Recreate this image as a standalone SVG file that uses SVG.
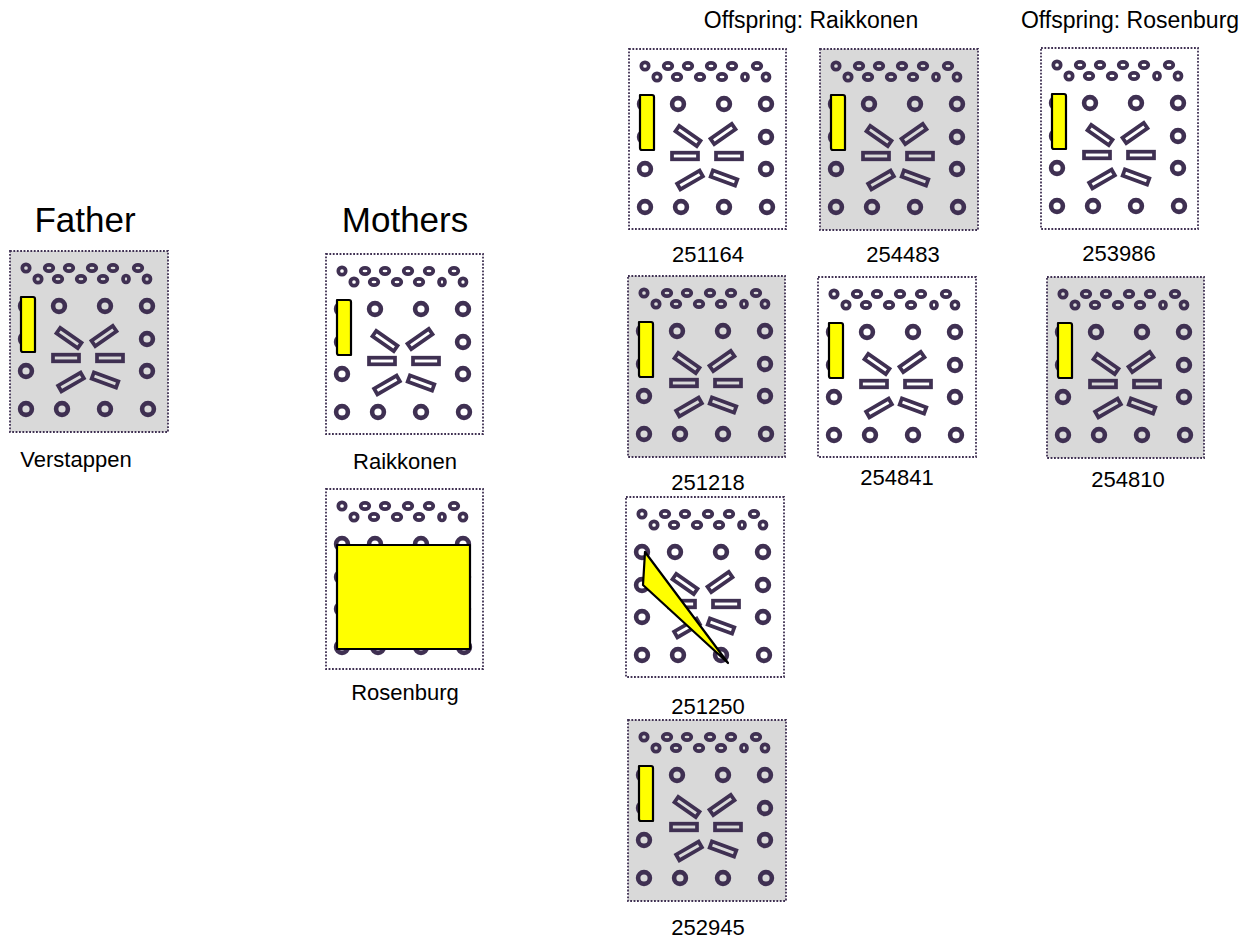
<svg xmlns="http://www.w3.org/2000/svg" xmlns:xlink="http://www.w3.org/1999/xlink" width="1245" height="939" viewBox="0 0 1245 939">
<style>
  text{font-family:"Liberation Sans",Arial,sans-serif;fill:#000}
  .title{font-size:35px}
  .lbl{font-size:22px}
  .head{font-size:23px}
  .pad{fill:none;stroke:#3f3052;stroke-width:4.6}
  .sp{fill:none;stroke:#3f3052;stroke-width:3.7}
  .bg-gray{fill:#d9d9d9}
  .bg-white{fill:#fff}
  .border{fill:none;stroke:#3f3052;stroke-width:1.8;stroke-dasharray:1.8 1.6}
  .yel{fill:#ffff00;stroke:#000;stroke-width:2.2;stroke-linejoin:round}
</style>
<defs>
  <g id="pads">
    <g class="sp">
      <ellipse cx="16" cy="17" rx="3.7" ry="3.7"/>
      <ellipse cx="39" cy="17" rx="4.3" ry="3.2"/>
      <ellipse cx="59" cy="17" rx="4.3" ry="3.2"/>
      <ellipse cx="82" cy="17" rx="4.3" ry="3.2"/>
      <ellipse cx="103" cy="17" rx="4.3" ry="3.2"/>
      <ellipse cx="128" cy="17" rx="4.3" ry="3.2"/>
      <ellipse cx="28" cy="28" rx="3.7" ry="3.7"/>
      <ellipse cx="48" cy="28" rx="4.3" ry="3.2"/>
      <ellipse cx="71" cy="28" rx="4.3" ry="3.2"/>
      <ellipse cx="93" cy="28" rx="4.3" ry="3.2"/>
      <ellipse cx="116" cy="28" rx="3" ry="3.5"/>
      <ellipse cx="137" cy="28" rx="3.5" ry="3.7"/>
    </g>
    <g class="pad">
      <circle cx="16" cy="55" r="5.9"/>
      <circle cx="49" cy="55" r="5.9"/>
      <circle cx="95" cy="55" r="5.9"/>
      <circle cx="137" cy="55" r="5.9"/>
      <circle cx="16" cy="88" r="5.9"/>
      <circle cx="137" cy="88" r="5.9"/>
      <circle cx="16" cy="120" r="5.9"/>
      <circle cx="137" cy="120" r="5.9"/>
      <circle cx="16" cy="158" r="5.9"/>
      <circle cx="52" cy="158" r="5.9"/>
      <circle cx="95" cy="158" r="5.9"/>
      <circle cx="138" cy="158" r="5.9"/>
    </g>
    <g class="sp">
      <rect x="-13" y="-3.3" width="26" height="6.6" transform="translate(59 87) rotate(35)"/>
      <rect x="-13" y="-3.3" width="26" height="6.6" transform="translate(94 85) rotate(-35)"/>
      <rect x="-13" y="-3.3" width="26" height="6.6" transform="translate(56 107)"/>
      <rect x="-13" y="-3.3" width="26" height="6.6" transform="translate(100 107)"/>
      <rect x="-13" y="-3.3" width="26" height="6.6" transform="translate(61 131) rotate(-30)"/>
      <rect x="-13" y="-3.3" width="26" height="6.6" transform="translate(95 129) rotate(20)"/>
    </g>
  </g>
  <path id="ybar" d="M11 46 H23 Q25 46 25 48 V101 H13 Q11 101 11 99 Z"/>
</defs>

<g id="labels">
  <text class="title" x="85" y="232" text-anchor="middle">Father</text>
  <text class="title" x="405" y="232" text-anchor="middle">Mothers</text>
  <text class="head" x="811" y="28" text-anchor="middle">Offspring: Raikkonen</text>
  <text class="head" x="1130" y="28" text-anchor="middle">Offspring: Rosenburg</text>
</g>

<g id="father-verstappen">
  <g transform="translate(10 251)">
    <rect class="bg-gray" width="158" height="181"/>
    <use xlink:href="#pads" href="#pads"/>
    <use class="yel" xlink:href="#ybar" href="#ybar"/>
    <rect class="border" width="158" height="181"/>
  </g>
  <text class="lbl" x="76" y="467" text-anchor="middle">Verstappen</text>
</g>

<g id="mother-raikkonen">
  <g transform="translate(326 254)">
    <rect class="bg-white" width="157" height="180"/>
    <use xlink:href="#pads" href="#pads"/>
    <use class="yel" xlink:href="#ybar" href="#ybar"/>
    <rect class="border" width="157" height="180"/>
  </g>
  <text class="lbl" x="405" y="469" text-anchor="middle">Raikkonen</text>
</g>

<g id="mother-rosenburg">
  <g transform="translate(326 489)">
    <rect class="bg-white" width="157" height="180"/>
    <use xlink:href="#pads" href="#pads"/>
    <rect class="yel" x="11" y="56" width="133" height="104" stroke-linejoin="miter"/>
    <rect class="border" width="157" height="180"/>
  </g>
  <text class="lbl" x="405" y="700" text-anchor="middle">Rosenburg</text>
</g>

<g id="offspring-251164">
  <g transform="translate(629 49)">
    <rect class="bg-white" width="157" height="180"/>
    <use xlink:href="#pads" href="#pads"/>
    <use class="yel" xlink:href="#ybar" href="#ybar"/>
    <rect class="border" width="157" height="180"/>
  </g>
  <text class="lbl" x="708" y="262" text-anchor="middle">251164</text>
</g>

<g id="offspring-254483">
  <g transform="translate(820 49)">
    <rect class="bg-gray" width="158" height="181"/>
    <use xlink:href="#pads" href="#pads"/>
    <use class="yel" xlink:href="#ybar" href="#ybar"/>
    <rect class="border" width="158" height="181"/>
  </g>
  <text class="lbl" x="903" y="262" text-anchor="middle">254483</text>
</g>

<g id="offspring-253986">
  <g transform="translate(1041 48)">
    <rect class="bg-white" width="157" height="181"/>
    <use xlink:href="#pads" href="#pads"/>
    <use class="yel" xlink:href="#ybar" href="#ybar"/>
    <rect class="border" width="157" height="181"/>
  </g>
  <text class="lbl" x="1119" y="261" text-anchor="middle">253986</text>
</g>

<g id="offspring-251218">
  <g transform="translate(628 276)">
    <rect class="bg-gray" width="157" height="181"/>
    <use xlink:href="#pads" href="#pads"/>
    <use class="yel" xlink:href="#ybar" href="#ybar"/>
    <rect class="border" width="157" height="181"/>
  </g>
  <text class="lbl" x="708" y="490" text-anchor="middle">251218</text>
</g>

<g id="offspring-254841">
  <g transform="translate(818 277)">
    <rect class="bg-white" width="158" height="180"/>
    <use xlink:href="#pads" href="#pads"/>
    <use class="yel" xlink:href="#ybar" href="#ybar"/>
    <rect class="border" width="158" height="180"/>
  </g>
  <text class="lbl" x="897" y="485" text-anchor="middle">254841</text>
</g>

<g id="offspring-254810">
  <g transform="translate(1047 277)">
    <rect class="bg-gray" width="157" height="181"/>
    <use xlink:href="#pads" href="#pads"/>
    <use class="yel" xlink:href="#ybar" href="#ybar"/>
    <rect class="border" width="157" height="181"/>
  </g>
  <text class="lbl" x="1128" y="487" text-anchor="middle">254810</text>
</g>

<g id="offspring-251250">
  <g transform="translate(626 497)">
    <rect class="bg-white" width="158" height="180"/>
    <use xlink:href="#pads" href="#pads"/>
    <polygon class="yel" points="19,55 17,88 102,166"/>
    <rect class="border" width="158" height="180"/>
  </g>
  <text class="lbl" x="708" y="714" text-anchor="middle">251250</text>
</g>

<g id="offspring-252945">
  <g transform="translate(628 720)">
    <rect class="bg-gray" width="158" height="181"/>
    <use xlink:href="#pads" href="#pads"/>
    <use class="yel" xlink:href="#ybar" href="#ybar"/>
    <rect class="border" width="158" height="181"/>
  </g>
  <text class="lbl" x="708" y="935" text-anchor="middle">252945</text>
</g>
</svg>
